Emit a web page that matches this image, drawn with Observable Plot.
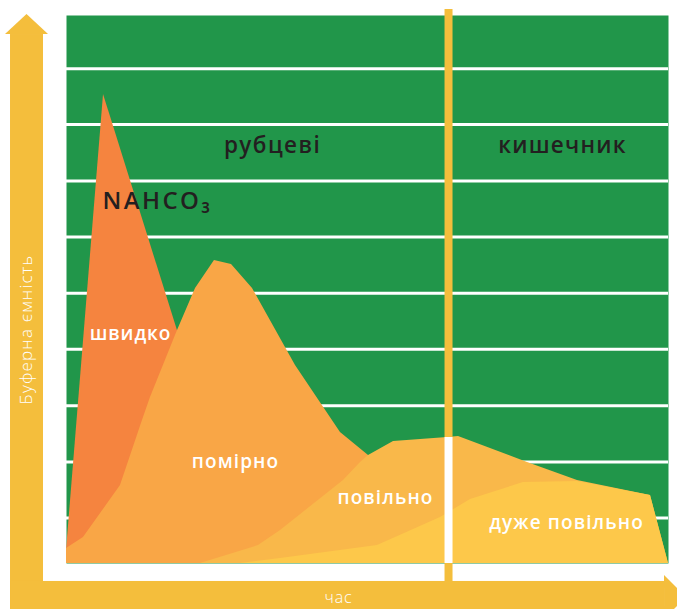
<!DOCTYPE html>
<html>
<head>
<meta charset="utf-8">
<script src="https://cdn.jsdelivr.net/npm/d3@7"></script>
<script src="https://cdn.jsdelivr.net/npm/@observablehq/plot@0.6"></script>
<style>
  html, body { margin: 0; padding: 0; background: #fff; }
  #chart svg { display: block; }
</style>
</head>
<body>
<div id="chart"></div>
<script>
// ---- data (time 0..100 across the chart, buffer capacity 0..100) ----
const timeFast = [0, 6.15, 30.56];
const bufFast  = [2.37, 85.58, 0];

const timeModerate = [0, 2.82, 8.97, 12.62, 13.95, 18.44, 21.43, 24.58, 27.41, 30.90, 38.04, 45.51, 50.17, 54.15, 60.47];
const bufModerate  = [2.74, 4.74, 14.23, 26.09, 30.29, 42.52, 50.18, 55.29, 54.56, 50.18, 36.13, 23.91, 19.71, 15.15, 0];

const timeSlow = [22.26, 31.89, 35.55, 46.01, 48.84, 50.17, 54.32, 63.29, 65.12, 76.58, 84.88, 97.01, 100];
const bufSlow  = [0, 3.28, 6.02, 15.15, 18.43, 19.71, 22.26, 22.99, 23.18, 18.43, 15.15, 12.41, 0];

const timeVerySlow = [28.9, 35.55, 51.66, 62.13, 67.11, 75.91, 84.88, 97.01, 100];
const bufVerySlow  = [0, 0.91, 3.28, 8.39, 11.68, 14.78, 14.96, 12.41, 0];

const gridLevels = [8.3, 18.5, 28.8, 39.1, 49.3, 59.6, 69.8, 80.1, 90.3];
const boundaryTime = 63.46;          // rumen | intestine boundary

const zoneNames = ["рубцеві", "кишечник"];
const rateNames = ["швидко", "помірно", "повільно", "дуже повільно"];
const productName = "NAHCO₃";
const yTitle = "Буферна ємність";
const xTitle = "час";

// ---- build tables ----
const zip = (ts, bs) => ts.map((t, i) => ({t, b: bs[i]}));
const series = [
  {name: rateNames[0], rows: zip(timeFast, bufFast), fill: "#F5843F"},
  {name: rateNames[1], rows: zip(timeModerate, bufModerate), fill: "#F9A646"},
  {name: rateNames[2], rows: zip(timeSlow, bufSlow), fill: "#F9B84A"},
  {name: rateNames[3], rows: zip(timeVerySlow, bufVerySlow), fill: "#FDC84A"}
];

function interp(rows, t) {
  for (let i = 1; i < rows.length; i++) {
    const a = rows[i - 1], c = rows[i];
    if (t >= a.t && t <= c.t) return a.b + (c.b - a.b) * (t - a.t) / (c.t - a.t);
  }
  return 0;
}
const topAtBoundary = d3.max(series, s => interp(s.rows, boundaryTime));

// layout (in data units)
const axisCol = {x1: -9.30, x2: -3.82, xc: -6.56};
const axisRow = {y1: -3.28, y2: -9.31, yc: -6.20};
const zoneLabelPos = [{x: 34.22, y: 76.28}, {x: 82.39, y: 76.28}];
const rateLabelPos = [{x: 10.63, y: 41.97}, {x: 28.07, y: 18.61}, {x: 52.99, y: 12.04}, {x: 83.06, y: 7.48}];

const yellow = "#F4BE3C";
const font = "Open Sans";

const zoneLabels = zoneNames.map((text, i) => ({text, ...zoneLabelPos[i]}));
const rateLabels = rateNames.map((text, i) => ({text, ...rateLabelPos[i]}));

const chart = Plot.plot({
  width: 677,
  height: 609,
  marginLeft: 66,
  marginRight: 9,
  marginTop: 15,
  marginBottom: 46,
  x: {domain: [0, 100], axis: null},
  y: {domain: [0, 100], axis: null},
  style: {background: "#fff", overflow: "visible"},
  marks: [
    Plot.frame({fill: "#21964A", stroke: null}),
    Plot.ruleY(gridLevels, {stroke: "#fff", strokeWidth: 3}),
    Plot.ruleX([boundaryTime], {y1: 101.1, y2: axisRow.y1, stroke: yellow, strokeWidth: 8}),
    ...series.map(s => Plot.areaY(s.rows, {x: "t", y: "b", fill: s.fill})),
    Plot.ruleX([boundaryTime], {y1: 0, y2: topAtBoundary, stroke: "#fff", strokeWidth: 8}),
    // y axis arrow
    Plot.rect([{x1: axisCol.x1, x2: axisCol.x2, y1: axisRow.y2, y2: 96.53}], {x1: "x1", x2: "x2", y1: "y1", y2: "y2", fill: yellow}),
    Plot.areaX([{b: 96.53, x1: -10.13, x2: -2.99}, {b: 100.18, x1: axisCol.xc, x2: axisCol.xc}], {y: "b", x1: "x1", x2: "x2", fill: yellow}),
    // x axis arrow
    Plot.rect([{x1: axisCol.x1, x2: 99.34, y1: axisRow.y1, y2: axisRow.y2}], {x1: "x1", x2: "x2", y1: "y1", y2: "y2", fill: yellow}),
    Plot.areaY([{t: 99.34, y1: -2.19, y2: -10.22}, {t: 102.99, y1: axisRow.yc, y2: axisRow.yc}], {x: "t", y1: "y1", y2: "y2", fill: yellow}),
    // texts
    Plot.text(zoneLabels, {x: "x", y: "y", text: "text", fill: "#231F20", fontSize: 22.5, fontWeight: 600, fontFamily: font}),
    Plot.text([{text: productName, x: 5.98, y: 66.06}], {x: "x", y: "y", text: "text", textAnchor: "start", fill: "#231F20", fontSize: 24, fontWeight: 600, fontFamily: font}),
    Plot.text(rateLabels, {x: "x", y: "y", text: "text", fill: "#fff", fontSize: 19, fontWeight: 600, fontFamily: font}),
    Plot.text([{text: yTitle, x: axisCol.xc, y: 42.7}], {x: "x", y: "y", text: "text", rotate: -90, fill: "#fff", fontSize: 17, fontWeight: 300, fontFamily: font}),
    Plot.text([{text: xTitle, x: 45.18, y: axisRow.yc}], {x: "x", y: "y", text: "text", fill: "#fff", fontSize: 16, fontWeight: 300, fontFamily: font})
  ]
});

// widen letter spacing to match the reference's wide typeface
const spacing = {
  "рубцеві": "1.4px", "кишечник": "1.2px",
  "NAHCO₃": "2.4px",
  "швидко": "0.9px", "помірно": "1.1px", "повільно": "1.1px", "дуже повільно": "1.1px",
  "Буферна ємність": "1.2px", "час": "0.8px"
};
d3.select(chart).selectAll("text").each(function () {
  const s = spacing[this.textContent];
  if (s) this.setAttribute("letter-spacing", s);
});
document.getElementById("chart").appendChild(chart);
</script>
</body>
</html>
